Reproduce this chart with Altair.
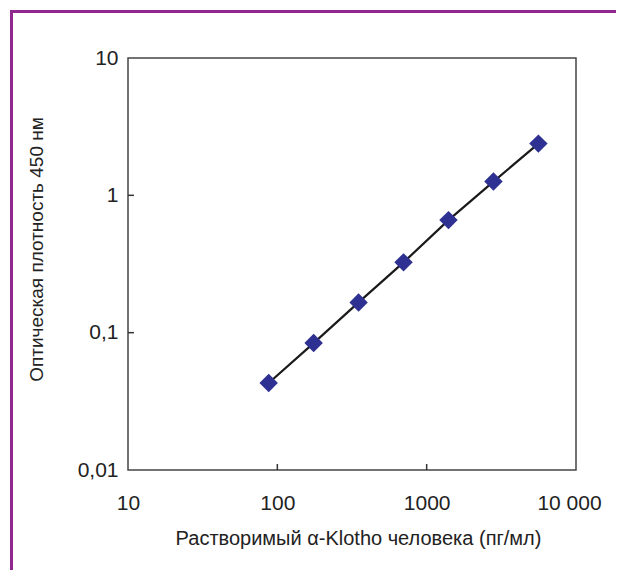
import altair as alt
import pandas as pd

# data
conc = [87.5, 175, 350, 700, 1400, 2800, 5600]
od = [0.043, 0.084, 0.166, 0.325, 0.66, 1.26, 2.38]

x_tick_values = [10, 100, 1000, 10000]
x_tick_labels = ["10", "100", "1000", "10 000"]
y_tick_values = [10, 1, 0.1, 0.01]
y_tick_labels = ["10", "1", "0,1", "0,01"]
x_inner_ticks = [100, 1000]
y_inner_ticks = [1, 0.1]

x_title = "Растворимый α-Klotho человека (пг/мл)"
y_title = "Оптическая плотность 450 нм"

FONT = "Liberation Sans"
PURPLE = "#922790"
W, H = 448, 412


def label_expr(values, labels):
    expr = "''"
    for v, l in reversed(list(zip(values, labels))):
        expr = f"datum.value == {v} ? '{l}' : ({expr})"
    return expr


df = pd.DataFrame({"conc": conc, "od": od})
xscale = alt.Scale(type="log", domain=[10, 10000], nice=False)
yscale = alt.Scale(type="log", domain=[0.01, 10], nice=False)

xaxis = alt.Axis(
    values=x_tick_values, labelExpr=label_expr(x_tick_values, x_tick_labels),
    ticks=False, domain=False, grid=False, labelPadding=22,
    labelOffset={"condition": {"test": "datum.value == 10000", "value": -7}, "value": 0},
    labelFont=FONT, labelFontSize=21, labelColor="#222",
    title=x_title, titleFont=FONT, titleFontSize=20, titleFontWeight="normal",
    titleColor="#222", titleX=230, titleY=68, titleBaseline="middle",
    titleAlign="center", labelFlush=False, labelOverlap=False,
)
yaxis = alt.Axis(
    values=y_tick_values, labelExpr=label_expr(y_tick_values, y_tick_labels),
    ticks=False, domain=False, grid=False, labelPadding=10,
    labelFont=FONT, labelFontSize=21, labelColor="#222",
    title=y_title, titleFont=FONT, titleFontSize=19, titleFontWeight="normal",
    titleColor="#222", titleX=-92, titleY=191, titleBaseline="middle",
    titleAlign="center", titleAngle=270, labelFlush=False, labelOverlap=False,
)

line = alt.Chart(df).mark_line(color="#1a1a1a", strokeWidth=2.2).encode(
    x=alt.X("conc:Q", scale=xscale, axis=xaxis),
    y=alt.Y("od:Q", scale=yscale, axis=yaxis),
)
points = alt.Chart(df).mark_point(
    shape="diamond", filled=True, size=340, color="#2E3192", opacity=1
).encode(
    x=alt.X("conc:Q", scale=xscale, axis=xaxis),
    y=alt.Y("od:Q", scale=yscale, axis=yaxis),
)

xt = alt.Chart(pd.DataFrame({"v": x_inner_ticks})).mark_rule(
    color="#333", strokeWidth=1.5
).encode(
    x=alt.X("v:Q", scale=xscale, axis=xaxis),
    y=alt.value(H), y2=alt.value(H - 6),
)
yt = alt.Chart(pd.DataFrame({"v": y_inner_ticks})).mark_rule(
    color="#333", strokeWidth=1.5
).encode(
    y=alt.Y("v:Q", scale=yscale, axis=yaxis),
    x=alt.value(0), x2=alt.value(6),
)

one = pd.DataFrame({"a": [0]})
border_left = alt.Chart(one).mark_rule(color=PURPLE, strokeWidth=3).encode(
    x=alt.value(-116.5), y=alt.value(-48), y2=alt.value(512)
)
border_top = alt.Chart(one).mark_rule(color=PURPLE, strokeWidth=3).encode(
    x=alt.value(-118), x2=alt.value(488), y=alt.value(-46.5)
)

chart = alt.layer(line, points, xt, yt, border_left, border_top).properties(
    width=W, height=H, padding=0
).configure_view(stroke="#444", strokeWidth=1.5)

chart.save("out.html", embed_options={"renderer": "svg", "actions": False})
